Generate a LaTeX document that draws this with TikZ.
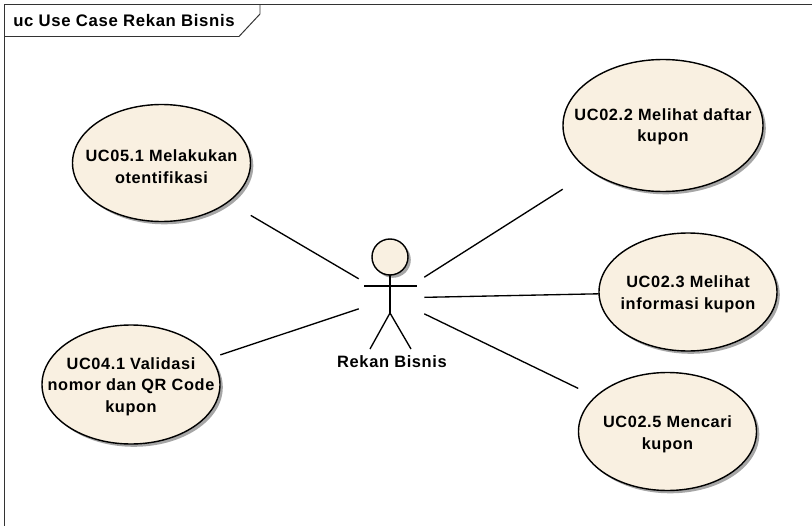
\documentclass[tikz,border=0pt]{standalone}
\usepackage{fontspec}
\setmainfont[LetterSpace=3.8]{Liberation Sans}
\usetikzlibrary{shadows}
\definecolor{ucfill}{HTML}{F9F0E1}
\tikzset{
    usecase/.style={draw=black, line width=1pt, fill=ucfill,
        drop shadow={shadow xshift=0.07cm, shadow yshift=-0.07cm, fill=black, opacity=0.35}},
    ucbox/.style={inner sep=0pt, minimum width=4.45cm, minimum height=2.95cm},
    uctext/.style={inner sep=0pt, align=center, font=\bfseries\fontsize{11.6}{15.4}\selectfont},
    actorbox/.style={inner sep=0pt, minimum width=1.625cm, minimum height=2.75cm},
    assoc/.style={draw=black, line width=0.95pt},
}
\begin{document}
\begin{tikzpicture}[x=0.025cm, y=0.025cm]
    \useasboundingbox (0,0) rectangle (812,-526);
    % frame
    \draw [black!80, line width=0.9pt] (4.5,-526) -- (4.5,-4.5) -- (812,-4.5);
    \draw [black!80, line width=0.7pt] (4.5,-36.5) -- (239,-36.5) -- (260,-14) -- (260,-4.5);
    \node [anchor=west, inner sep=0pt, font=\bfseries\fontsize{11.9}{14}\selectfont] (title) at (13,-21) {uc Use Case Rekan Bisnis};
    % use cases
    \draw [usecase] (161.5,-163) ellipse (89 and 58.5);
    \draw [usecase] (663,-125.5) ellipse (100 and 66);
    \draw [usecase] (688,-292) ellipse (89 and 59);
    \draw [usecase] (667.5,-431.5) ellipse (89 and 59);
    \draw [usecase] (131,-384.5) ellipse (89 and 59.5);
    \node [ucbox, label={[uctext, yshift=-2.8pt]center:{UC05.1 Melakukan\\otentifikasi}}] (uc051) at (161.5,-163) {};
    \node [ucbox, minimum width=5cm, minimum height=3.3cm, label={[uctext, yshift=-0.8pt]center:{UC02.2 Melihat daftar\\kupon}}] (uc022) at (663,-125.5) {};
    \node [ucbox, label={[uctext, yshift=-1.6pt]center:{UC02.3 Melihat\\informasi kupon}}] (uc023) at (688,-292) {};
    \node [ucbox, label={[uctext, yshift=-2pt]center:{UC02.5 Mencari\\kupon}}] (uc025) at (667.5,-431.5) {};
    \node [ucbox, label={[uctext, yshift=-1.6pt]center:{UC04.1 Validasi\\nomor dan QR Code\\kupon}}] (uc041) at (131,-384.5) {};
    % actor
    \draw [usecase] (390,-257) circle (18);
    \draw [black, line width=0.95pt] (390,-275) -- (390,-313);
    \draw [black, line width=0.95pt] (364,-286) -- (417,-286);
    \draw [black, line width=0.95pt] (370,-349) -- (390,-313) -- (411,-349);
    \node [actorbox] (rekan) at (391.5,-298) {};
    \node [inner sep=0pt, font=\bfseries\fontsize{11.7}{14}\selectfont] (rekanlabel) at (392,-361.5) {Rekan Bisnis};
    % associations
    \draw [assoc] (uc051) -- (rekan);
    \draw [assoc] (uc041) -- (rekan);
    \draw [assoc] (uc022) -- (rekan);
    \draw [assoc] (uc023) -- (rekan);
    \draw [assoc] (uc025) -- (rekan);
\end{tikzpicture}
\end{document}
